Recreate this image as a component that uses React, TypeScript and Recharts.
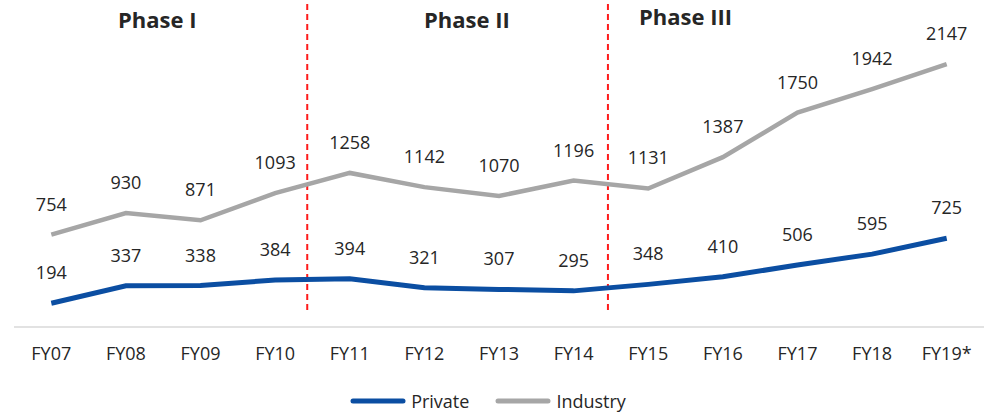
import { LineChart, Line, XAxis, YAxis, ReferenceLine, ReferenceDot, LabelList, Legend } from 'recharts';

const categories = ['FY07', 'FY08', 'FY09', 'FY10', 'FY11', 'FY12', 'FY13', 'FY14', 'FY15', 'FY16', 'FY17', 'FY18', 'FY19*'];
const privateValues = [194, 337, 338, 384, 394, 321, 307, 295, 348, 410, 506, 595, 725];
const industryValues = [754, 930, 871, 1093, 1258, 1142, 1070, 1196, 1131, 1387, 1750, 1942, 2147];

// phase titles sit between the dividers, dividers sit between fiscal years
const phaseNames = ['Phase I', 'Phase II', 'Phase III'];
const phaseCenters = [1.42, 5.57, 8.5];
const phaseLevels = [2507, 2507, 2531];
const dividers = [3.43, 7.46];

const data = categories.map((name, i) => ({
  idx: i,
  name,
  private: privateValues[i],
  industry: industryValues[i],
}));

const BLUE = '#0b4ea2';
const GREY = '#a6a6a6';
const TEXT = '#262626';
const FONT = '"Open Sans", sans-serif';

const renderLegend = () => {
  const items = [
    { label: 'Private', color: BLUE },
    { label: 'Industry', color: GREY },
  ];
  return (
    <div
      style={{
        display: 'flex',
        justifyContent: 'center',
        alignItems: 'center',
        gap: 26,
        paddingRight: 16,
        paddingTop: 25,
        height: 18,
        lineHeight: '18px',
        fontFamily: FONT,
        fontSize: 18,
        color: TEXT,
      }}
    >
      {items.map((it) => (
        <div key={it.label} style={{ display: 'flex', alignItems: 'center', gap: 5 }}>
          <svg width={56} height={8}>
            <line x1={3} y1={4} x2={53} y2={4} stroke={it.color} strokeWidth={5} strokeLinecap="round" />
          </svg>
          <span>{it.label}</span>
        </div>
      ))}
    </div>
  );
};

export default function App() {
  return (
    <div style={{ position: 'absolute', left: 0, top: 0 }}>
      <LineChart
        width={992}
        height={413}
        data={data}
        margin={{ top: 0, right: 8, left: 14, bottom: 0 }}
        style={{ fontFamily: FONT }}
      >
        <XAxis
          type="number"
          dataKey="idx"
          domain={[-0.5, 12.5]}
          ticks={categories.map((_, i) => i)}
          tickFormatter={(i: number) => categories[i]}
          interval={0}
          height={40}
          axisLine={{ stroke: '#d9d9d9', strokeWidth: 1.5 }}
          tickLine={false}
          tickSize={8}
          tickMargin={12}
          tick={{ fill: TEXT, fontSize: 18 }}
        />
        <YAxis hide domain={[0, 2670]} />
        {dividers.map((x) => (
          <ReferenceLine
            key={x}
            segment={[
              { x, y: 139 },
              { x, y: 2670 },
            ]}
            stroke="#ff1a1a"
            strokeWidth={2}
            strokeDasharray="6 4"
          />
        ))}
        {phaseNames.map((name, i) => (
          <ReferenceDot
            key={name}
            x={phaseCenters[i]}
            y={phaseLevels[i]}
            r={0}
            fill="none"
            stroke="none"
            label={{ value: name, position: 'center', fill: TEXT, fontSize: 22, fontWeight: 700 }}
          />
        ))}
        <Line
          type="linear"
          dataKey="industry"
          name="Industry"
          stroke={GREY}
          strokeWidth={4.5}
          dot={false}
          isAnimationActive={false}
        >
          <LabelList dataKey="industry" position="top" offset={24} fill={TEXT} fontSize={18} />
        </Line>
        <Line
          type="linear"
          dataKey="private"
          name="Private"
          stroke={BLUE}
          strokeWidth={5}
          dot={false}
          isAnimationActive={false}
        >
          <LabelList dataKey="private" position="top" offset={24} fill={TEXT} fontSize={18} />
        </Line>
        <Legend verticalAlign="bottom" height={46} content={renderLegend} wrapperStyle={{ left: 0, width: 992 }} />
      </LineChart>
    </div>
  );
}
